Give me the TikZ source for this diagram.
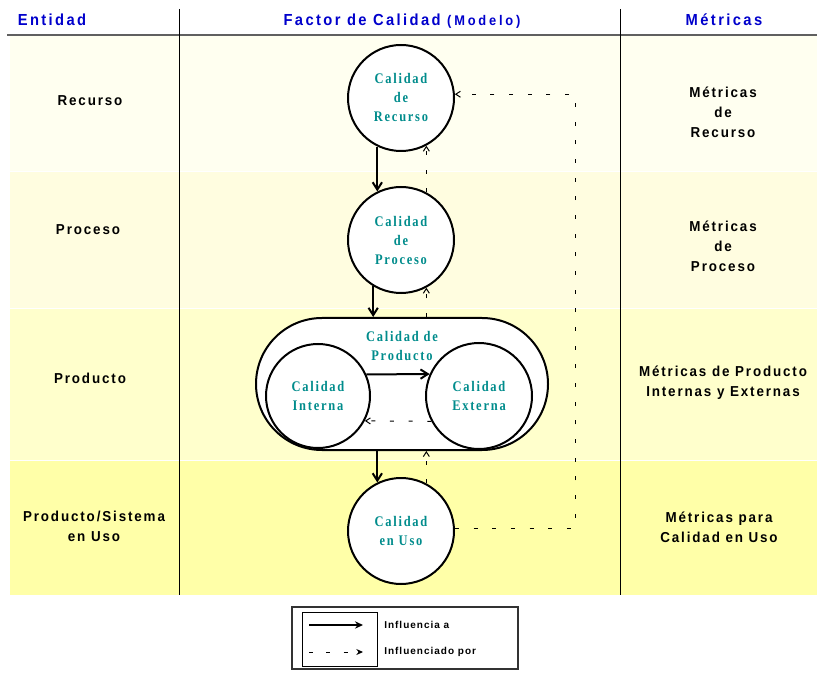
\documentclass[tikz,border=0pt]{standalone}
\usepackage{fontspec}
\usetikzlibrary{arrows.meta,shapes.misc,calc}
\newfontfamily\hdrfont[LetterSpace=15,FakeStretch=0.92]{Liberation Sans}
\newfontfamily\smhdrfont[LetterSpace=20,FakeStretch=0.92]{Liberation Sans}
\newfontfamily\lblfont[LetterSpace=13,FakeStretch=0.93]{Liberation Sans}
\newfontfamily\legfont[LetterSpace=10]{Liberation Sans}
\newfontfamily\cfont[LetterSpace=12,FakeStretch=0.85]{Liberation Serif}
\definecolor{hdrblue}{HTML}{0000CC}
\definecolor{tealtxt}{HTML}{008C8C}
\definecolor{bandA}{HTML}{FFFFF0}
\definecolor{bandB}{HTML}{FFFDE0}
\definecolor{bandC}{HTML}{FFFFCC}
\definecolor{bandD}{HTML}{FFFFA8}
\begin{document}
\begin{tikzpicture}[x=0.75pt,y=-0.75pt,
  qc/.style={circle, draw, line width=1.5pt, fill=white, minimum size=79.5pt,
    inner sep=0pt, align=center, text=tealtxt,
    font=\cfont\bfseries\fontsize{11}{14.25}\selectfont},
  ctext/.style={align=center, text=tealtxt, inner sep=0pt,
    font=\cfont\bfseries\fontsize{11}{14.25}\selectfont},
  lab/.style={align=center, inner sep=0pt,
    font=\lblfont\bfseries\fontsize{10.8}{15}\selectfont},
  hdr/.style={text=hdrblue, inner sep=0pt,
    font=\hdrfont\bfseries\fontsize{12}{14}\selectfont},
  legtext/.style={anchor=west, inner sep=0pt,
    font=\legfont\bfseries\fontsize{7.5}{9}\selectfont},
  infl/.style={line width=1.5pt, -{Straight Barb[length=5.5pt,width=7pt]}},
  inflby/.style={line width=0.75pt, dash pattern=on 3pt off 11pt,
    -{Straight Barb[length=3.5pt,width=4.5pt]}},
]
\useasboundingbox[fill=white] (0,0) rectangle (817,673);

% bands
\fill[bandA] (10,36) rectangle (817,171);
\fill[bandB] (10,172) rectangle (817,308);
\fill[bandC] (10,309) rectangle (817,460);
\fill[bandD] (10,461) rectangle (817,595);

% header rule and column separators
\draw[gray!75!black, line width=1.5pt] (7,35) -- (817,35);
\draw[line width=0.75pt] (179,9) -- (179,595);
\draw[line width=0.75pt] (620,9) -- (620,595);

% headers
\node[hdr] (hE) at (52,20) {Entidad};
\node[hdr] (hF) at (402,21) {Factor de Calidad {\smhdrfont\fontsize{10.5}{12}\selectfont(Modelo)}};
\node[hdr] (hM) at (724,20) {Métricas};

% left labels
\node[lab] (lR) at (90,101) {Recurso};
\node[lab] (lP) at (88,230) {Proceso};
\node[lab] (lPr) at (90,378) {Producto};
\node[lab] (lU) at (94,526) {Producto/Sistema\\en Uso};

% right labels
\node[lab] (mR) at (723,112) {Métricas\\de\\Recurso};
\node[lab] (mP) at (723,246) {Métricas\\de\\Proceso};
\node[lab] (mPr) at (723,383) {Métricas de Producto\\Internas y Externas};
\node[lab] (mU) at (719,527) {Métricas para\\Calidad en Uso};

% quality nodes
\node[qc] (rec) at (401,98) {Calidad\\de\\Recurso};
\node[qc] (pro) at (401,240) {Calidad\\de\\Proceso};
\node[draw, rounded rectangle, line width=1.5pt, fill=white,
  minimum width=219pt, minimum height=99pt, inner sep=0pt] (prod) at (402,384) {};
\node[ctext] (prodlbl) at (402,346) {Calidad de\\Producto};
\node[qc, minimum size=78pt] (int) at (318,396) {Calidad\\Interna};
\node[qc] (ext) at (479,396) {Calidad\\Externa};
\node[qc] (uso) at (401,531) {Calidad\\en Uso};

% solid influences
\draw[infl] (rec.-116) -- (pro.116);
\draw[infl] (pro.-121) -- (pro.-121 |- prod.north);
\draw[infl] (uso.116 |- prod.south) -- (uso.116);
\draw[infl] (int.24) -- (ext.156);

% dashed influences
\draw[inflby] (ext.-152) -- (int.-28);
\draw[inflby] (pro.-62 |- prod.north) -- (pro.-62);
\draw[inflby] (pro.62) -- (rec.-62);
\draw[inflby] (uso.62) -- (uso.62 |- prod.south);
\coordinate (lp) at (575,300);
\draw[inflby] (uso.3) -- (uso.3 -| lp) -- (rec.4 -| lp) -- (rec.4);

% legend
\node[draw, line width=1pt, draw=black!80, minimum width=169.5pt, minimum height=46.5pt,
  inner sep=0pt] (leg) at (405,638) {};
\node[draw, line width=0.75pt, minimum width=56.25pt, minimum height=40.5pt,
  inner sep=0pt] (legin) at (339.5,639) {};
\coordinate (la1) at (309,625);
\coordinate (la2) at (363,625);
\coordinate (lb1) at (309,652);
\coordinate (lb2) at (363,652);
\draw[line width=1.2pt, -{Stealth[length=6pt,width=5.5pt]}] (la1) -- (la2);
\draw[line width=0.75pt, dash pattern=on 3pt off 10pt, -{Stealth[length=5pt,width=4.5pt]}] (lb1) -- (lb2);
\node[legtext] (lt1) at (384,625) {Influencia a};
\node[legtext] (lt2) at (384,652) {Influenciado por};
\end{tikzpicture}
\end{document}
